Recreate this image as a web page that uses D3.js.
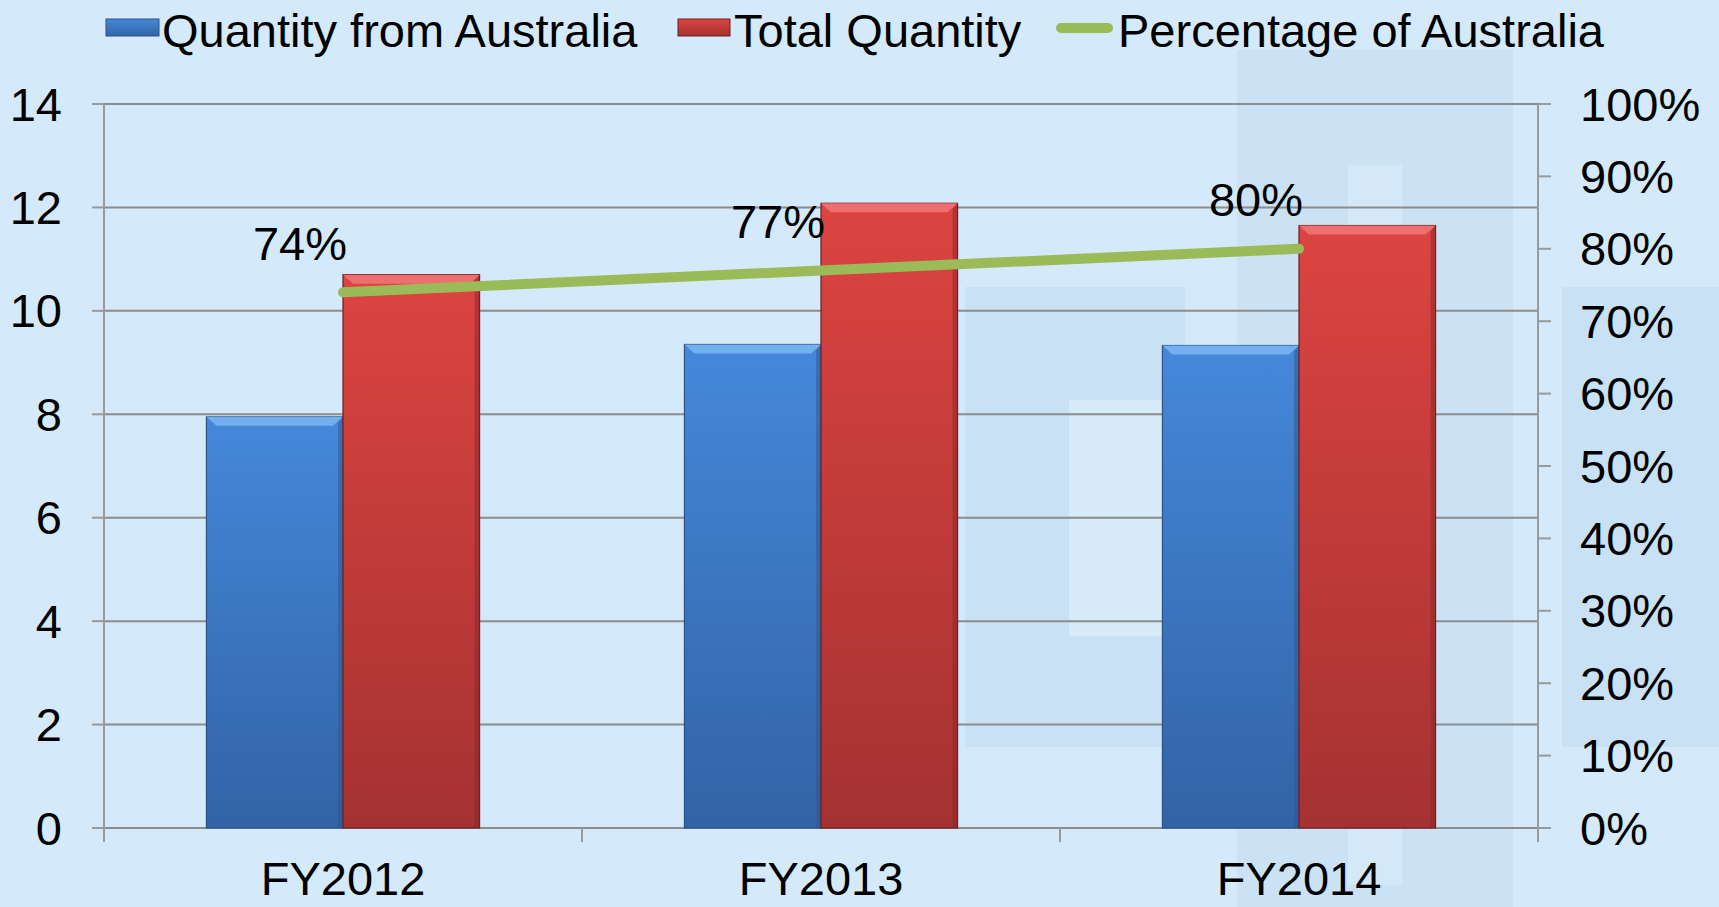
<!DOCTYPE html>
<html lang="en">
<head>
<meta charset="UTF-8">
<title>Quantity from Australia</title>
<script src="https://d3js.org/d3.v7.min.js"></script>
<style>
    body { margin: 0; overflow: hidden; background: #d4e9f9; }
    svg { display: block; font-family: "Liberation Sans", Arial, sans-serif; }
    .tick-label { font-size: 47px; fill: #000; }
    .grid { stroke: #8c8c8c; stroke-width: 2px; }
    .axis-line { stroke: #9a9a9a; stroke-width: 2px; }
</style>
</head>
<body>
<svg id="chart"></svg>
<script>
    const W = 1719, H = 907;

    // data
    const categories = ["FY2012", "FY2013", "FY2014"];
    const fromAustralia = [7.95, 9.35, 9.33];
    const totalQuantity = [10.7, 12.08, 11.65];
    const pctAustralia = [0.74, 0.77, 0.80];
    const pctLabels = ["74%", "77%", "80%"];
    const leftTicks = [0, 2, 4, 6, 8, 10, 12, 14];
    const rightTicks = [0, 0.1, 0.2, 0.3, 0.4, 0.5, 0.6, 0.7, 0.8, 0.9, 1];
    const seriesNames = ["Quantity from Australia", "Total Quantity", "Percentage of Australia"];

    const margin = { top: 104, right: 181, bottom: 79, left: 104 };
    const x0 = W - margin.right;

    const svg = d3.select("#chart").attr("width", W).attr("height", H);
    const defs = svg.append("defs");

    function grad(id, top, bottom) {
        const g = defs.append("linearGradient").attr("id", id)
            .attr("x1", 0).attr("y1", 0).attr("x2", 0).attr("y2", 1);
        g.append("stop").attr("offset", "0%").attr("stop-color", top);
        g.append("stop").attr("offset", "100%").attr("stop-color", bottom);
    }
    grad("blueGrad", "#4588da", "#3263a6");
    grad("redGrad", "#dc4441", "#a53232");

    // faint watermark shapes in the background
    const wm = svg.append("g");
    wm.append("rect").attr("x", 1237).attr("y", 50).attr("width", 276).attr("height", 857).attr("fill", "#bcd8ee").attr("opacity", 0.4);
    wm.append("rect").attr("x", 965).attr("y", 287).attr("width", 220).attr("height", 460).attr("fill", "#bcd8ee").attr("opacity", 0.45);
    wm.append("rect").attr("x", 1069).attr("y", 400).attr("width", 116).attr("height", 236).attr("fill", "#dcedfa").attr("opacity", 0.8);
    wm.append("rect").attr("x", 1562).attr("y", 287).attr("width", 157).attr("height", 460).attr("fill", "#bcd8ee").attr("opacity", 0.45);
    wm.append("rect").attr("x", 1348).attr("y", 165).attr("width", 54).attr("height", 720).attr("fill", "#dcedfa").attr("opacity", 0.6);

    const x = d3.scaleBand().domain(categories).range([margin.left, x0]).padding(0);
    const x1 = d3.scaleBand().domain([0, 1]).range([0, x.bandwidth()]).paddingInner(0).paddingOuter(0.75);
    const y = d3.scaleLinear().domain([0, 14]).range([H - margin.bottom, margin.top]);
    const yR = d3.scaleLinear().domain([0, 1]).range([H - margin.bottom, margin.top]);

    // gridlines
    svg.append("g").selectAll("line").data(leftTicks).join("line")
        .attr("class", "grid")
        .attr("x1", margin.left).attr("x2", x0)
        .attr("y1", d => y(d)).attr("y2", d => y(d));

    // axes lines and ticks
    const ax = svg.append("g");
    ax.append("line").attr("class", "axis-line")
        .attr("x1", margin.left).attr("x2", margin.left).attr("y1", y(14)).attr("y2", y(0));
    ax.append("line").attr("class", "axis-line")
        .attr("x1", x0).attr("x2", x0).attr("y1", y(14)).attr("y2", y(0));
    ax.selectAll(".lt").data(leftTicks).join("line").attr("class", "axis-line")
        .attr("x1", margin.left - 12).attr("x2", margin.left)
        .attr("y1", d => y(d)).attr("y2", d => y(d));
    ax.selectAll(".rt").data(rightTicks).join("line").attr("class", "axis-line")
        .attr("x1", x0).attr("x2", x0 + 13)
        .attr("y1", d => yR(d)).attr("y2", d => yR(d));
    const bounds = categories.map(c => x(c)).concat([x0]);
    ax.selectAll(".ct").data(bounds).join("line").attr("class", "axis-line")
        .attr("x1", d => d).attr("x2", d => d)
        .attr("y1", y(0)).attr("y2", y(0) + 14);

    // tick labels
    svg.append("g").selectAll("text").data(leftTicks).join("text")
        .attr("class", "tick-label")
        .attr("x", 62).attr("y", d => y(d))
        .attr("text-anchor", "end").attr("dominant-baseline", "central")
        .text(d => d);
    svg.append("g").selectAll("text").data(rightTicks).join("text")
        .attr("class", "tick-label")
        .attr("x", 1580).attr("y", d => yR(d))
        .attr("text-anchor", "start").attr("dominant-baseline", "central")
        .text(d => Math.round(d * 100) + "%");
    svg.append("g").selectAll("text").data(categories).join("text")
        .attr("class", "tick-label")
        .attr("x", d => x(d) + x.bandwidth() / 2).attr("y", 878)
        .attr("text-anchor", "middle").attr("dominant-baseline", "central")
        .text(d => d);

    // bars
    const barData = [];
    categories.forEach((c, i) => {
        barData.push({ c, s: 0, v: fromAustralia[i] });
        barData.push({ c, s: 1, v: totalQuantity[i] });
    });
    const bars = svg.append("g").selectAll("g").data(barData).join("g")
        .attr("transform", d => `translate(${x(d.c) + x1(d.s)},${y(d.v)})`);
    bars.append("rect")
        .attr("width", x1.bandwidth())
        .attr("height", d => y(0) - y(d.v))
        .attr("fill", d => d.s === 0 ? "url(#blueGrad)" : "url(#redGrad)")
        .attr("stroke", d => d.s === 0 ? "#2a5289" : "#6e1f1f")
        .attr("stroke-width", 1.2);
    // bevel highlight at the top
    bars.append("path")
        .attr("d", d => {
            const w = x1.bandwidth();
            return `M0,0 L${w},0 L${w - 10},9 L10,9 Z`;
        })
        .attr("fill", d => d.s === 0 ? "#79b4f0" : "#f07474")
        .attr("opacity", 0.9);
    bars.append("path")
        .attr("d", d => {
            const w = x1.bandwidth(), h = y(0) - y(d.v);
            return `M${w},0 L${w},${h} L${w - 5},${h} L${w - 5},6 Z`;
        })
        .attr("fill", d => d.s === 0 ? "#2b568f" : "#8a2626")
        .attr("opacity", 0.5);

    // percentage line
    const line = d3.line()
        .x((d, i) => x(categories[i]) + x.bandwidth() / 2)
        .y(d => yR(d));
    svg.append("path").datum(pctAustralia)
        .attr("d", line)
        .attr("fill", "none")
        .attr("stroke", "#9bbb59")
        .attr("stroke-width", 10)
        .attr("stroke-linecap", "round");

    svg.append("g").selectAll("text").data(pctAustralia).join("text")
        .attr("class", "tick-label")
        .attr("x", (d, i) => x(categories[i]) + x.bandwidth() / 2 - 43)
        .attr("y", d => yR(d) - 49)
        .attr("text-anchor", "middle").attr("dominant-baseline", "central")
        .text((d, i) => pctLabels[i]);

    // legend
    const legend = svg.append("g");
    const legX = [106, 678, 1056];
    legend.append("rect").attr("x", legX[0]).attr("y", 19).attr("width", 53).attr("height", 17)
        .attr("fill", "url(#blueGrad)").attr("stroke", "#2a5289");
    legend.append("rect").attr("x", legX[1]).attr("y", 19).attr("width", 52).attr("height", 17)
        .attr("fill", "url(#redGrad)").attr("stroke", "#6e1f1f");
    legend.append("line").attr("x1", legX[2] + 5).attr("x2", legX[2] + 52)
        .attr("y1", 28).attr("y2", 28)
        .attr("stroke", "#9bbb59").attr("stroke-width", 10).attr("stroke-linecap", "round");
    legend.selectAll("text").data(seriesNames).join("text")
        .attr("class", "tick-label")
        .attr("x", (d, i) => legX[i] + (i === 2 ? 62 : 56))
        .attr("y", 30)
        .attr("dominant-baseline", "central")
        .text(d => d);
</script>
</body>
</html>
